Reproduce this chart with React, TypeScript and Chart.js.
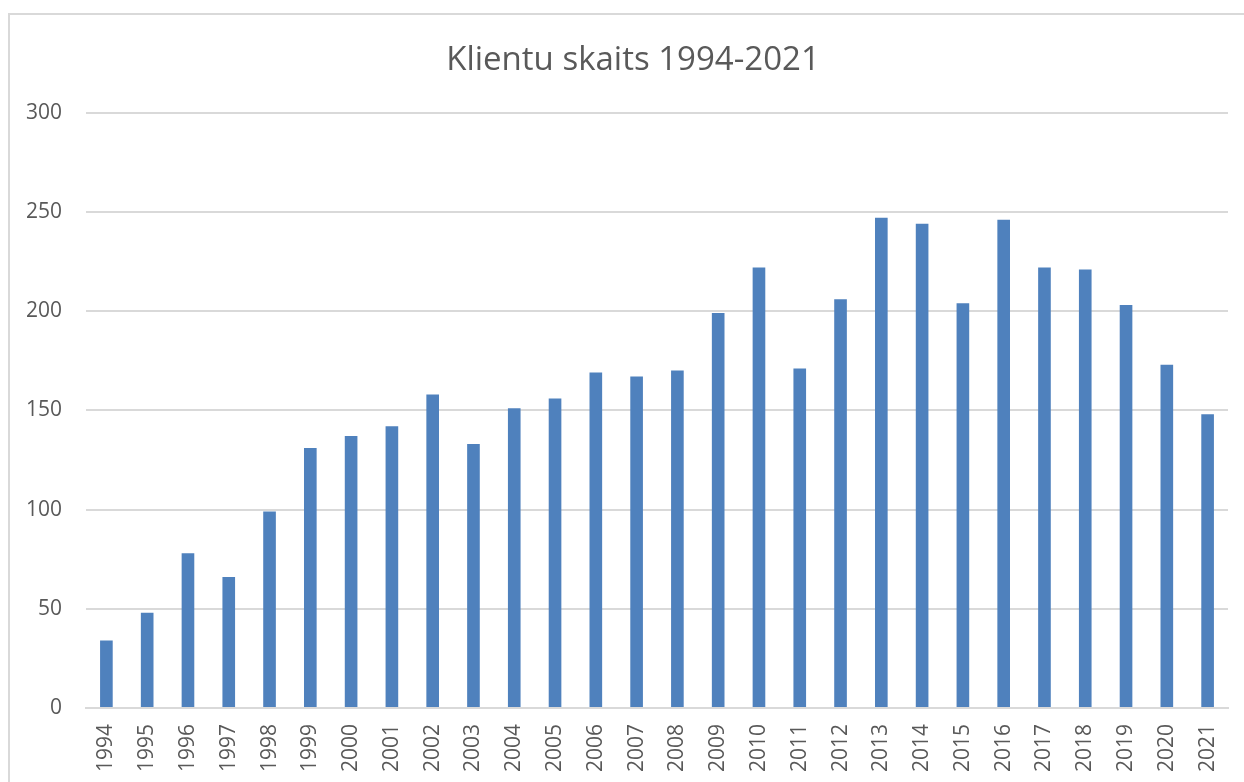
import React, { useEffect, useRef } from "react";
import { Chart, registerables } from "chart.js";

Chart.register(...registerables);

const years: string[] = [
  "1994", "1995", "1996", "1997", "1998", "1999", "2000", "2001", "2002", "2003",
  "2004", "2005", "2006", "2007", "2008", "2009", "2010", "2011", "2012", "2013",
  "2014", "2015", "2016", "2017", "2018", "2019", "2020", "2021",
];
const clients: number[] = [
  34, 48, 78, 66, 99, 131, 137, 142, 158, 133,
  151, 156, 169, 167, 170, 199, 222, 171, 206, 247,
  244, 204, 246, 222, 221, 203, 173, 148,
];
const titleText = "Klientu skaits 1994-2021";
const yMin = 0;
const yMax = 300;
const yStep = 50;

const FONT = "'Open Sans', 'Noto Sans', sans-serif";
const TEXT = "#595959";
const GRID = "#D9D9D9";
const BAR = "#4F81BD";

const titleShift = {
  id: "titleShift",
  afterLayout(chart: any) {
    const t = chart.titleBlock;
    if (t) {
      t.left += 12;
      t.width -= 12;
    }
  },
};

export default function App() {
  const ref = useRef<HTMLCanvasElement | null>(null);
  useEffect(() => {
    if (!ref.current) return;
    const chart = new Chart(ref.current, {
      type: "bar",
      data: {
        labels: years,
        datasets: [
          {
            data: clients,
            backgroundColor: BAR,
            borderWidth: 0,
            barPercentage: 0.31,
            categoryPercentage: 1,
          },
        ],
      },
      plugins: [titleShift],
      options: {
        animation: false,
        responsive: false,
        maintainAspectRatio: false,
        layout: { padding: { left: 26, right: 16, top: 0, bottom: 0 } },
        plugins: {
          legend: { display: false },
          tooltip: { enabled: false },
          title: {
            display: true,
            text: titleText,
            color: TEXT,
            font: { family: FONT, size: 33, weight: "normal" },
            padding: { top: 41, bottom: 32 },
          },
        },
        scales: {
          x: {
            grid: { display: false, drawTicks: false },
            border: { display: true, color: GRID, width: 2 },
            ticks: {
              color: TEXT,
              font: { family: FONT, size: 21 },
              minRotation: 90,
              maxRotation: 90,
              padding: 16,
              autoSkip: false,
            },
            afterFit: (s: any) => {
              s.height = 74;
              s.paddingLeft = 0;
              s.paddingRight = 0;
            },
          },
          y: {
            min: yMin,
            max: yMax,
            grid: { color: GRID, lineWidth: 2, drawTicks: false },
            border: { display: false },
            ticks: {
              stepSize: yStep,
              color: TEXT,
              font: { family: FONT, size: 21 },
              padding: 24,
            },
            afterFit: (s: any) => {
              s.width = 60;
              s.paddingTop = 0;
              s.paddingBottom = 0;
            },
          },
        },
      },
    });
    return () => chart.destroy();
  }, []);

  return (
    <div
      style={{
        position: "absolute",
        left: 0,
        top: 0,
        width: 1244,
        height: 782,
        overflow: "hidden",
        background: "#fff",
      }}
    >
      <div
        style={{
          position: "absolute",
          left: 8,
          top: 13,
          width: 1300,
          height: 900,
          borderLeft: `2px solid ${GRID}`,
          borderTop: `2px solid ${GRID}`,
        }}
      />
      <canvas ref={ref} width={1244} height={782} style={{ position: "absolute", left: 0, top: 0 }} />
    </div>
  );
}
